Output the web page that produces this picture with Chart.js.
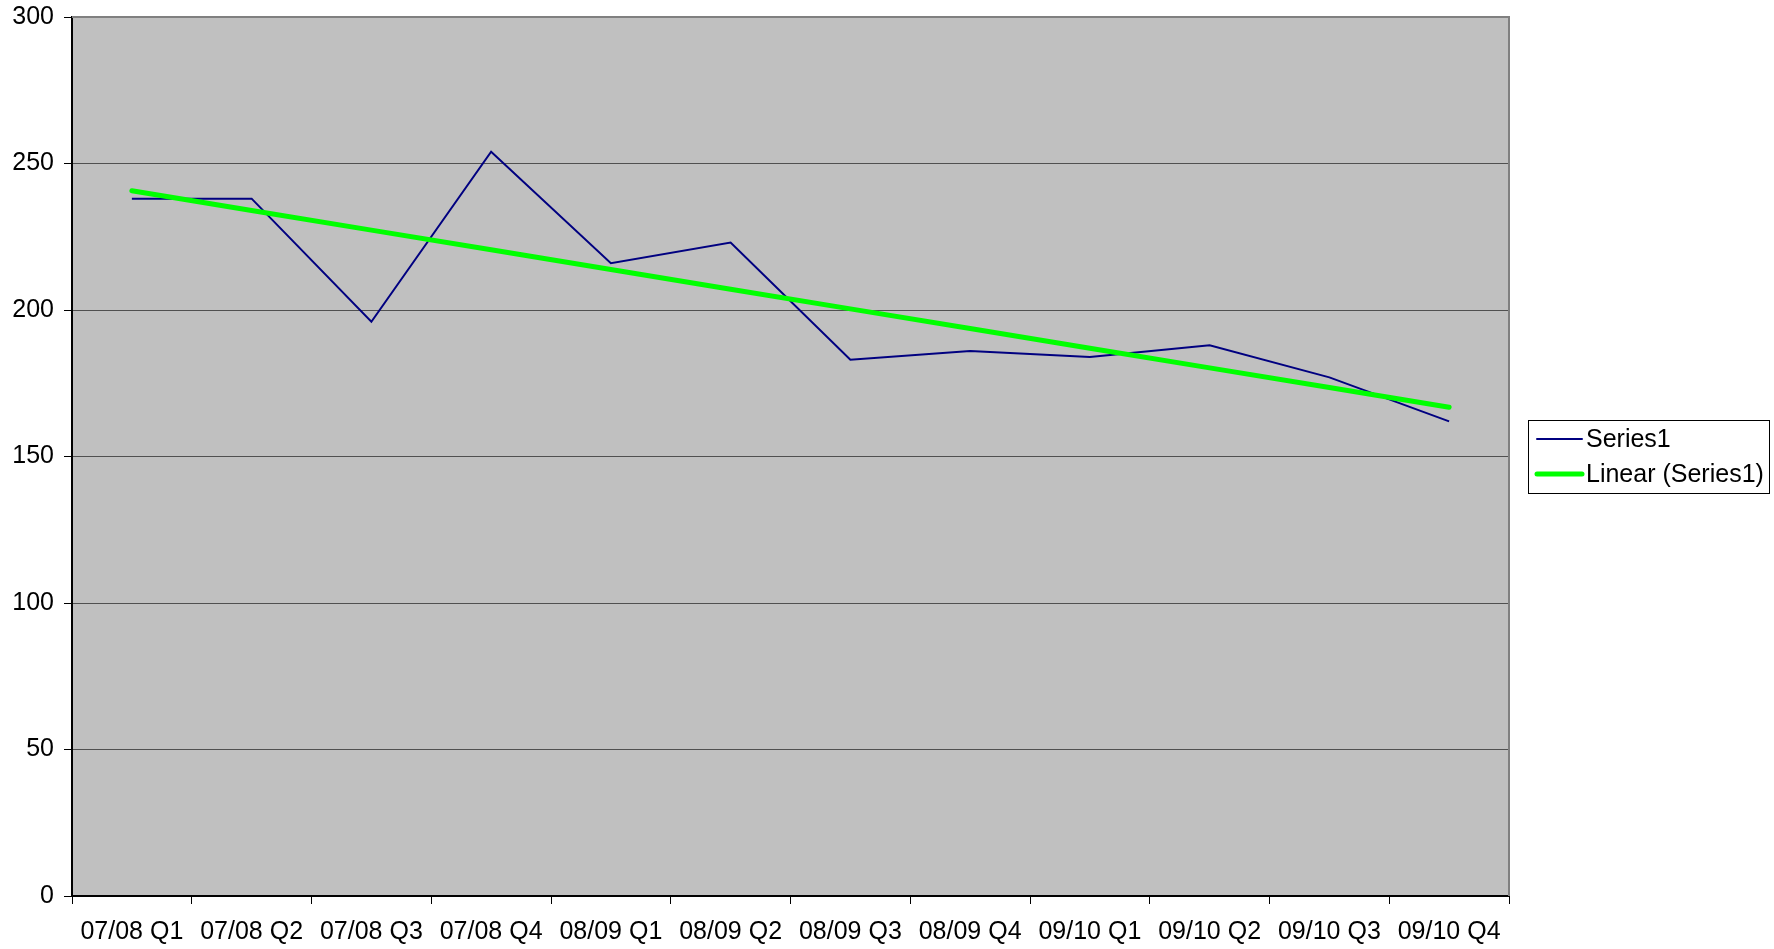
<!DOCTYPE html>
<html>
<head>
<meta charset="utf-8">
<script src="https://cdn.jsdelivr.net/npm/chart.js@4.4.1/dist/chart.umd.min.js"></script>
<style>
  html, body { margin: 0; padding: 0; background: #ffffff; }
  canvas { display: block; }
</style>
</head>
<body>
<canvas id="c" width="1774" height="949"></canvas>
<script>
// ---- data ----
const categories = ["07/08 Q1","07/08 Q2","07/08 Q3","07/08 Q4","08/09 Q1","08/09 Q2","08/09 Q3","08/09 Q4","09/10 Q1","09/10 Q2","09/10 Q3","09/10 Q4"];
const series1 = [238, 238, 196, 254, 216, 223, 183, 186, 184, 188, 177, 162];
const seriesName = "Series1";
const trendName = "Linear (Series1)";
const yMin = 0, yMax = 300, yStep = 50;

// Linear trendline (least squares, as the spreadsheet's "Linear" trendline)
function linearTrend(values) {
  const n = values.length;
  let sx = 0, sy = 0, sxy = 0, sxx = 0;
  values.forEach((v, i) => { const x = i + 1; sx += x; sy += v; sxy += x * v; sxx += x * x; });
  const slope = (n * sxy - sx * sy) / (n * sxx - sx * sx);
  const intercept = (sy - slope * sx) / n;
  return values.map((_, i) => intercept + slope * (i + 1));
}
const trend = linearTrend(series1);

const FONT = "'Liberation Sans', Arial, sans-serif";
const FS = 25;
const NAVY = '#000080';
const GREEN = '#00ff00';

const plotBg = {
  id: 'plotBg',
  beforeDraw(chart) {
    const a = chart.chartArea, ctx = chart.ctx;
    ctx.save();
    ctx.fillStyle = '#c0c0c0';
    ctx.fillRect(a.left, a.top, a.right - a.left, a.bottom - a.top);
    ctx.restore();
  },
  beforeDatasetsDraw(chart) {
    const a = chart.chartArea, ctx = chart.ctx;
    ctx.save();
    ctx.strokeStyle = '#808080';
    ctx.lineWidth = 2;
    ctx.beginPath();
    ctx.moveTo(a.left, a.top);
    ctx.lineTo(a.right, a.top);
    ctx.lineTo(a.right, a.bottom);
    ctx.stroke();
    ctx.restore();
  }
};

const boxLegend = {
  id: 'boxLegend',
  afterDraw(chart) {
    const ctx = chart.ctx;
    const a = chart.chartArea;
    const left = a.right + 19, top = 420, w = 241, h = 73;
    ctx.save();
    ctx.fillStyle = '#ffffff';
    ctx.fillRect(left, top, w, h);
    ctx.strokeStyle = '#000000';
    ctx.lineWidth = 1;
    ctx.strokeRect(left + 0.5, top + 0.5, w, h);
    const items = [
      { label: seriesName, color: NAVY, width: 2, y: top + 19 },
      { label: trendName, color: GREEN, width: 5, y: top + 54 }
    ];
    ctx.font = FS + 'px ' + FONT;
    ctx.textBaseline = 'middle';
    ctx.textAlign = 'left';
    items.forEach(it => {
      ctx.strokeStyle = it.color;
      ctx.lineWidth = it.width;
      ctx.lineCap = 'round';
      ctx.beginPath();
      ctx.moveTo(left + 9, it.y);
      ctx.lineTo(left + 54, it.y);
      ctx.stroke();
      ctx.fillStyle = '#000000';
      ctx.fillText(it.label, left + 58, it.y + 1);
    });
    ctx.restore();
  }
};

new Chart(document.getElementById('c'), {
  type: 'line',
  data: {
    labels: categories,
    datasets: [
      {
        label: seriesName,
        data: series1,
        borderColor: NAVY,
        backgroundColor: NAVY,
        borderWidth: 2,
        pointRadius: 0,
        tension: 0,
        fill: false,
        order: 2
      },
      {
        label: trendName,
        data: trend,
        borderColor: GREEN,
        backgroundColor: GREEN,
        borderWidth: 5,
        borderCapStyle: 'round',
        pointRadius: 0,
        tension: 0,
        fill: false,
        order: 1
      }
    ]
  },
  options: {
    responsive: false,
    animation: false,
    devicePixelRatio: 1,
    layout: { padding: { top: 17, right: 265, left: 0, bottom: 0 } },
    plugins: {
      legend: { display: false },
      tooltip: { enabled: false },
      title: { display: false }
    },
    scales: {
      x: {
        type: 'category',
        offset: true,
        afterFit(scale) { scale.height = 53; scale.paddingLeft = 0; scale.paddingRight = 0; },
        grid: {
          display: true,
          offset: true,
          drawOnChartArea: false,
          drawTicks: true,
          tickLength: 8,
          tickColor: '#000000',
          color: '#000000'
        },
        border: { display: true, color: '#000000', width: 2 },
        ticks: {
          autoSkip: false,
          maxRotation: 0,
          minRotation: 0,
          padding: 13,
          color: '#000000',
          font: { family: FONT, size: FS }
        }
      },
      y: {
        min: yMin,
        max: yMax,
        afterFit(scale) { scale.width = 72; scale.paddingTop = 0; scale.paddingBottom = 0; },
        grid: {
          color: (ctx) => (ctx.tick && (ctx.tick.value === yMax || ctx.tick.value === yMin)) ? 'rgba(0,0,0,0)' : '#505050',
          lineWidth: 1,
          drawTicks: true,
          tickLength: 8,
          tickColor: '#000000'
        },
        border: { display: true, color: '#000000', width: 2 },
        ticks: {
          stepSize: yStep,
          padding: 10,
          color: '#000000',
          font: { family: FONT, size: FS }
        }
      }
    }
  },
  plugins: [plotBg, boxLegend]
});
</script>
</body>
</html>
